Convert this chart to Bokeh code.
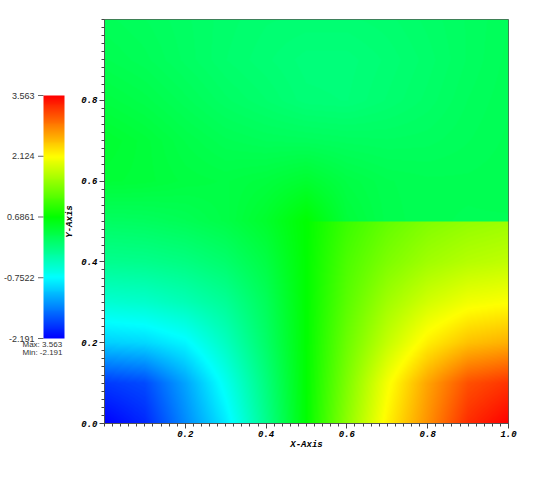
import numpy as np
from bokeh.plotting import figure
from bokeh.models import LinearColorMapper, FixedTicker, Range1d, PrintfTickFormatter, ColumnDataSource
from bokeh.core.properties import value
from bokeh.layouts import row
from bokeh.embed import file_html
from bokeh.resources import INLINE

# ---------------- data (node values) ----------------
x_nodes = [0.0, 0.1, 0.2, 0.3, 0.4, 0.5, 0.6, 0.7, 0.8, 0.9, 1.0]
y_lower_nodes = [0.0, 0.1, 0.2, 0.3, 0.4, 0.5]
y_upper_nodes = [0.5, 0.6, 0.7, 0.8, 0.9, 1.0]

lower_y00 = [-2.191, -1.964, -1.404, -0.864, -0.104, 0.686, 1.476, 2.186, 2.736, 3.306, 3.563]
lower_y01 = [-1.864, -1.764, -1.264, -0.664, -0.014, 0.686, 1.386, 2.066, 2.636, 3.106, 3.266]
lower_y02 = [-1.014, -0.964, -0.794, -0.394, 0.106, 0.686, 1.286, 1.786, 2.206, 2.466, 2.566]
lower_y03 = [-0.494, -0.454, -0.334, -0.154, 0.186, 0.686, 1.186, 1.586, 1.866, 2.046, 2.106]
lower_y04 = [-0.114, -0.094, -0.034, 0.086, 0.306, 0.686, 1.106, 1.386, 1.586, 1.706, 1.766]
lower_y05 = [0.136, 0.156, 0.206, 0.286, 0.436, 0.686, 1.006, 1.236, 1.406, 1.506, 1.566]

upper_y05 = [0.14, 0.16, 0.21, 0.29, 0.44, 0.686, 0.36, 0.25, 0.22, 0.21, 0.21]
upper_y06 = [0.38, 0.36, 0.32, 0.30, 0.34, 0.42, 0.30, 0.24, 0.22, 0.22, 0.23]
upper_y07 = [0.42, 0.36, 0.28, 0.22, 0.19, 0.18, 0.16, 0.15, 0.16, 0.19, 0.22]
upper_y08 = [0.32, 0.27, 0.20, 0.13, 0.08, 0.02, 0.01, 0.06, 0.11, 0.17, 0.21]
upper_y09 = [0.24, 0.20, 0.14, 0.08, 0.04, 0.00, 0.00, 0.04, 0.09, 0.15, 0.20]
upper_y10 = [0.20, 0.17, 0.13, 0.09, 0.06, 0.05, 0.05, 0.07, 0.11, 0.15, 0.19]

lower_field = [lower_y00, lower_y01, lower_y02, lower_y03, lower_y04, lower_y05]
upper_field = [upper_y05, upper_y06, upper_y07, upper_y08, upper_y09, upper_y10]

vmin, vmax = -2.191, 3.563
cbar_ticks = [-2.191, -0.7522, 0.6861, 2.124, 3.563]
cbar_labels = ["-2.191", "-0.7522", "0.6861", "2.124", "3.563"]
x_ticks = [0.2, 0.4, 0.6, 0.8, 1.0]
y_ticks = [0.0, 0.2, 0.4, 0.6, 0.8]

# ---------------- rendering of the node data (bilinear, like the mesh renderer) ----------------
def resample(grid, xn, yn, xs, ys):
    g = np.asarray(grid, dtype=float)
    tmp = np.array([np.interp(xs, xn, r) for r in g])
    return np.array([np.interp(ys, yn, tmp[:, j]) for j in range(len(xs))]).T

N = 404
xs = (np.arange(N) + 0.5) / N
ys = (np.arange(N) + 0.5) / N
low = resample(lower_field, x_nodes, y_lower_nodes, xs, ys[ys < 0.5])
up = resample(upper_field, x_nodes, y_upper_nodes, xs, ys[ys >= 0.5])
img = np.vstack([low, up])

stops = [(0, 0, 255), (0, 255, 255), (0, 255, 0), (255, 255, 0), (255, 0, 0)]
palette = []
for i in range(256):
    t = i / 255 * 4
    k = min(int(t), 3)
    f = t - k
    c = [round(stops[k][j] + (stops[k + 1][j] - stops[k][j]) * f) for j in range(3)]
    palette.append("#%02x%02x%02x" % tuple(c))
mapper = LinearColorMapper(palette=palette, low=vmin, high=vmax)

MONO = "Liberation Mono"
SANS = "Liberation Sans"
TOP, FRAME_H, BOTTOM = 19, 404, 40
CB_W = 74

# ---------------- main plot ----------------
p = figure(width=30 + 404 + 20, height=TOP + FRAME_H + BOTTOM,
           x_range=Range1d(0, 1), y_range=Range1d(0, 1),
           output_backend="svg", toolbar_location=None,
           min_border_left=30, min_border_right=20, min_border_top=TOP, min_border_bottom=BOTTOM)
p.image(image=[img], x=0, y=0, dw=1, dh=1, color_mapper=mapper)
p.grid.visible = False
p.outline_line_color = "#555555"
p.outline_line_width = 1

minor = [round(v, 2) for v in np.arange(0, 1.0001, 0.02)]
p.xaxis.ticker = FixedTicker(ticks=x_ticks, minor_ticks=minor)
p.yaxis.ticker = FixedTicker(ticks=y_ticks, minor_ticks=minor)
for ax in (p.xaxis, p.yaxis):
    ax.formatter = PrintfTickFormatter(format="%.1f")
    ax.axis_line_color = "#555555"
    ax.major_tick_line_color = "#444444"
    ax.minor_tick_line_color = "#444444"
    ax.major_tick_out = 5
    ax.major_tick_in = 0
    ax.minor_tick_out = 3
    ax.minor_tick_in = 0
    ax.major_label_text_font = MONO
    ax.major_label_text_font_style = "bold italic"
    ax.major_label_text_font_size = "9px"
    ax.major_label_text_color = "black"
    ax.major_label_standoff = 2
p.xaxis.axis_label = "X-Axis"
p.xaxis.axis_label_text_font = MONO
p.xaxis.axis_label_text_font_style = "bold italic"
p.xaxis.axis_label_text_font_size = "9px"
p.xaxis.axis_label_text_color = "black"
p.xaxis.axis_label_standoff = 0

# ---------------- colour bar panel (pixel x units, value y units) ----------------
ppu = 243 / (vmax - vmin)                 # bar height in px per value unit
bar_top_px, bar_bot_px = 95, 338           # page rows of bar ends
cb_range = Range1d(vmin - (TOP + FRAME_H - bar_bot_px) / ppu, vmax + (bar_top_px - TOP) / ppu)
cb = figure(width=CB_W, height=TOP + FRAME_H + BOTTOM, x_range=Range1d(0, CB_W), y_range=cb_range,
            output_backend="svg", toolbar_location=None,
            min_border_left=0, min_border_right=0, min_border_top=TOP, min_border_bottom=BOTTOM)
cb.grid.visible = False
cb.outline_line_color = None
cb.xaxis.visible = False
cb.yaxis.visible = False

grad = np.linspace(vmin, vmax, 256).reshape(-1, 1)
cb.image(image=[grad], x=43, y=vmin, dw=21, dh=vmax - vmin, color_mapper=mapper)

tick_src = ColumnDataSource(dict(y=cbar_ticks, label=cbar_labels))
cb.segment(x0=37.5, x1=43, y0="y", y1="y", source=tick_src, line_color="#666666", line_width=1)
cb.text(x=34, y="y", text="label", source=tick_src, text_align="right", text_baseline="middle",
        text_font=value(SANS), text_font_size="9px", text_color="#333333")

info_src = ColumnDataSource(dict(y=[vmin - 6 / ppu, vmin - 14 / ppu],
                                 label=["Max: 3.563", "Min: -2.191"]))
cb.text(x=22, y="y", text="label", source=info_src, text_align="left", text_baseline="middle",
        text_font=value(SANS), text_font_size="8px", text_color="#333333")

# y-axis title of the main plot, drawn in the panel next to it
cb.text(x=[69], y=[vmin + (bar_bot_px - (TOP + FRAME_H / 2)) / ppu], text=["Y-Axis"],
        angle=np.pi / 2, text_align="center", text_baseline="middle",
        text_font=value(MONO), text_font_style="bold italic", text_font_size="9px",
        text_color="black")

layout = row(cb, p, spacing=0)
open("out.html", "w").write(file_html(layout, INLINE))
